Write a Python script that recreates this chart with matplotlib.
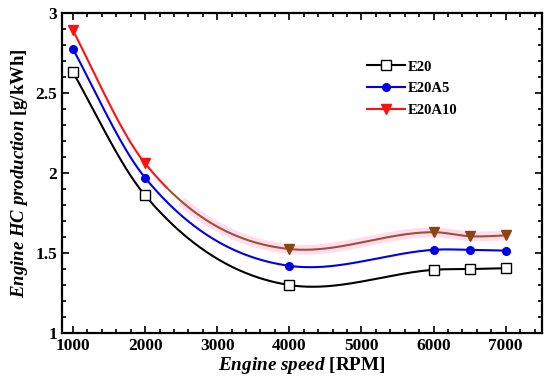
import numpy as np
import matplotlib
matplotlib.use("Agg")
import matplotlib.pyplot as plt
from matplotlib.ticker import MultipleLocator

# ── Data ──────────────────────────────────────────────────────────────────────
speed = [1000, 2000, 4000, 6000, 6500, 7000]
e20 = [2.63, 1.86, 1.30, 1.395, 1.40, 1.405]
e20a5 = [2.775, 1.97, 1.42, 1.52, 1.52, 1.515]
e20a10 = [2.89, 2.06, 1.525, 1.63, 1.605, 1.61]

plt.rcParams["font.family"] = ["Liberation Serif"]
plt.rcParams["font.weight"] = "bold"
plt.rcParams["mathtext.fontset"] = "custom"
plt.rcParams["mathtext.rm"] = "Liberation Serif:bold"
plt.rcParams["mathtext.it"] = "Liberation Serif:italic:bold"


def natural_spline(x, y, xs):
    m = len(x)
    h = np.diff(x)
    A = np.zeros((m, m))
    b = np.zeros(m)
    A[0, 0] = A[-1, -1] = 1
    for i in range(1, m - 1):
        A[i, i - 1] = h[i - 1]
        A[i, i] = 2 * (h[i - 1] + h[i])
        A[i, i + 1] = h[i]
        b[i] = 6 * ((y[i + 1] - y[i]) / h[i] - (y[i] - y[i - 1]) / h[i - 1])
    M = np.linalg.solve(A, b)
    idx = np.clip(np.searchsorted(x, xs) - 1, 0, m - 2)
    x0, x1 = x[idx], x[idx + 1]
    hh = x1 - x0
    return (M[idx] * (x1 - xs) ** 3 / (6 * hh) + M[idx + 1] * (xs - x0) ** 3 / (6 * hh)
            + (y[idx] / hh - M[idx] * hh / 6) * (x1 - xs)
            + (y[idx + 1] / hh - M[idx + 1] * hh / 6) * (xs - x0))


def hermite(x, y, xs):
    m = len(x)
    t = np.zeros(m)
    t[0] = (y[1] - y[0]) / (x[1] - x[0])
    t[-1] = (y[-1] - y[-2]) / (x[-1] - x[-2])
    for i in range(1, m - 1):
        t[i] = (y[i + 1] - y[i - 1]) / (x[i + 1] - x[i - 1])
    idx = np.clip(np.searchsorted(x, xs) - 1, 0, m - 2)
    h = x[idx + 1] - x[idx]
    s = (xs - x[idx]) / h
    return ((2 * s**3 - 3 * s**2 + 1) * y[idx] + (s**3 - 2 * s**2 + s) * h * t[idx]
            + (-2 * s**3 + 3 * s**2) * y[idx + 1] + (s**3 - s**2) * h * t[idx + 1])


def smooth(x, y, n=400):
    x = np.asarray(x, float)
    y = np.asarray(y, float)
    xs = np.linspace(x[0], x[-1], n)
    return xs, 0.5 * (natural_spline(x, y, xs) + hermite(x, y, xs))


fig, ax = plt.subplots(figsize=(5.5, 3.9), dpi=100)
fig.subplots_adjust(left=0.113, right=0.985, top=0.967, bottom=0.146)

series = [
    ("E20", e20, "black", "s", "white", 7.5),
    ("E20A5", e20a5, "#0000ee", "o", "#0000ee", 5.5),
    ("E20A10", e20a10, "#ff1010", "v", "#ff1010", 6.5),
]
for name, vals, col, mk, fc, ms in series:
    xs, ys = smooth(speed, vals)
    if name == "E20A10":
        # brownish tint of the right part as in the reference
        cut = xs >= 2300
        ax.plot(xs[xs >= 2500], ys[xs >= 2500], color="#ffdcf2", lw=7,
                solid_capstyle="butt", zorder=1)
        ax.plot(xs[~cut], ys[~cut], color=col, lw=1.5, zorder=2)
        ax.plot(xs[cut], ys[cut], color="#a0522d", lw=1.5, zorder=2)
        ax.plot(speed[:2], vals[:2], ls="none", marker=mk, ms=ms, mfc=fc, mec=col, zorder=3)
        ax.plot(speed[2:], vals[2:], ls="none", marker=mk, ms=ms, mfc="#8b4513",
                mec="#8b4513", zorder=3)
        ax.plot([], [], color=col, lw=1.5, marker=mk, ms=ms, mfc=fc, mec=col, label=name)
    else:
        ax.plot(xs, ys, color=col, lw=1.5, zorder=2)
        ax.plot(speed, vals, ls="none", marker=mk, ms=ms, mfc=fc, mec=col, mew=1, zorder=3)
        ax.plot([], [], color=col, lw=1.5, marker=mk, ms=ms, mfc=fc, mec=col, label=name)

ax.set_xlim(850, 7500)
ax.set_ylim(1, 3)
ax.xaxis.set_major_locator(MultipleLocator(1000))
ax.xaxis.set_minor_locator(MultipleLocator(200))
ax.yaxis.set_major_locator(MultipleLocator(0.5))
ax.yaxis.set_minor_locator(MultipleLocator(0.1))
ax.yaxis.set_major_formatter(plt.FuncFormatter(lambda v, p: f"{v:g}"))
ax.tick_params(which="both", direction="in", top=True, right=True, labelsize=12.5, width=1.2)
ax.tick_params(which="major", length=5)
ax.tick_params(which="minor", length=3)
for s in ax.spines.values():
    s.set_linewidth(1.6)

ax.set_xlabel(r"$\mathit{Engine\ speed}$ [RPM]", fontsize=13.8, fontweight="bold", labelpad=1)
ax.set_ylabel(r"$\mathit{Engine\ HC\ production}$ [g/kWh]", fontsize=13.5, fontweight="bold",
              labelpad=4)

ax.legend(loc="upper left", bbox_to_anchor=(0.624, 0.87), frameon=False, fontsize=10.5,
          handlelength=2.6, handletextpad=0.2, labelspacing=0.6, borderaxespad=0)

fig.savefig("out.png", dpi=100)
